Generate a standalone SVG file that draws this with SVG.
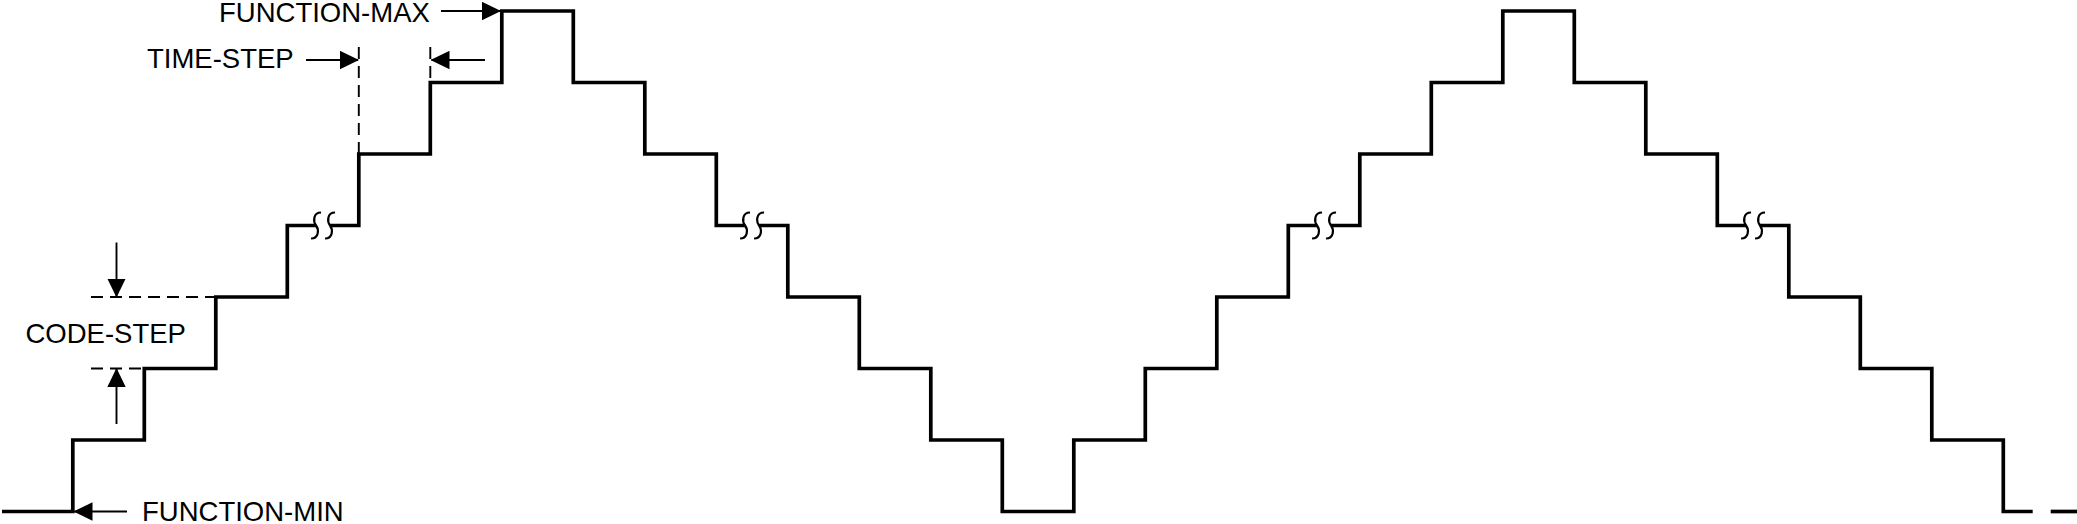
<svg xmlns="http://www.w3.org/2000/svg" width="2077" height="524" viewBox="0 0 2077 524">
<style>
.wave{fill:none;stroke:#000;stroke-width:3.7;stroke-linejoin:miter;stroke-linecap:butt}
.brk{fill:none;stroke:#000;stroke-width:2.2}
.thin{fill:none;stroke:#000;stroke-width:1.9}
.dash{fill:none;stroke:#000;stroke-width:1.9;stroke-dasharray:12 7}
.lbl{font-family:"Liberation Sans",Arial,sans-serif;font-size:27.5px;fill:#000}
</style>
<defs>
<marker id="ah" markerUnits="userSpaceOnUse" markerWidth="19" markerHeight="19" viewBox="0 0 19 19" refX="18" refY="9.5" orient="auto">
<path d="M0,0.3 L19,9.5 L0,18.7 Z" fill="#000"/>
</marker>
<path id="sq" d="M5,-13 C-3,-13 -3,-4 0,0 S3,13 -5,13"/>
</defs>
<rect width="2077" height="524" fill="#fff"/>
<g id="waveform">
<path class="wave" d="M2,511.5 H72.8 V440 H144.3 V368.5 H215.8 V297 H287.3 V225.5 H316.05"/>
<path class="wave" d="M330.05,225.5 H358.8 V154 H430.3 V82.5 H501.8 V11 H573.3 V82.5 H644.8 V154 H716.3 V225.5 H745.05"/>
<path class="wave" d="M759.05,225.5 H787.8 V297 H859.3 V368.5 H930.8 V440 H1002.3 V511.5 H1073.8 V440 H1145.3 V368.5 H1216.8 V297 H1288.3 V225.5 H1317.05"/>
<path class="wave" d="M1331.05,225.5 H1359.8 V154 H1431.3 V82.5 H1502.8 V11 H1574.3 V82.5 H1645.8 V154 H1717.3 V225.5 H1746.05"/>
<path class="wave" d="M1760.05,225.5 H1788.8 V297 H1860.3 V368.5 H1931.8 V440 H2003.3 V511.5 H2032.7"/>
<path class="wave" d="M2050.7,511.5 H2077"/>
</g>
<g id="breaks" class="brk">
<use href="#sq" x="316.05" y="225.5"/><use href="#sq" x="330.05" y="225.5"/>
<use href="#sq" x="745.05" y="225.5"/><use href="#sq" x="759.05" y="225.5"/>
<use href="#sq" x="1317.05" y="225.5"/><use href="#sq" x="1331.05" y="225.5"/>
<use href="#sq" x="1746.05" y="225.5"/><use href="#sq" x="1760.05" y="225.5"/>
</g>
<g id="function-max">
<text class="lbl" x="219" y="21.5">FUNCTION-MAX</text>
<line class="thin" x1="441" y1="11" x2="500" y2="11" marker-end="url(#ah)"/>
</g>
<g id="time-step">
<text class="lbl" x="147" y="68">TIME-STEP</text>
<line class="dash" x1="358.8" y1="47" x2="358.8" y2="154"/>
<line class="dash" x1="430.3" y1="47" x2="430.3" y2="82.5"/>
<line class="thin" x1="306" y1="60" x2="358" y2="60" marker-end="url(#ah)"/>
<line class="thin" x1="485" y1="60" x2="431.5" y2="60" marker-end="url(#ah)"/>
</g>
<g id="code-step">
<text class="lbl" x="25.5" y="343">CODE-STEP</text>
<line class="dash" x1="91" y1="297" x2="214" y2="297"/>
<line class="dash" x1="91" y1="368.5" x2="143" y2="368.5"/>
<line class="thin" x1="116.5" y1="242.5" x2="116.5" y2="296.5" marker-end="url(#ah)"/>
<line class="thin" x1="116.5" y1="424" x2="116.5" y2="369" marker-end="url(#ah)"/>
</g>
<g id="function-min">
<text class="lbl" x="142" y="521">FUNCTION-MIN</text>
<line class="thin" x1="127" y1="511.5" x2="74.5" y2="511.5" marker-end="url(#ah)"/>
</g>
</svg>
